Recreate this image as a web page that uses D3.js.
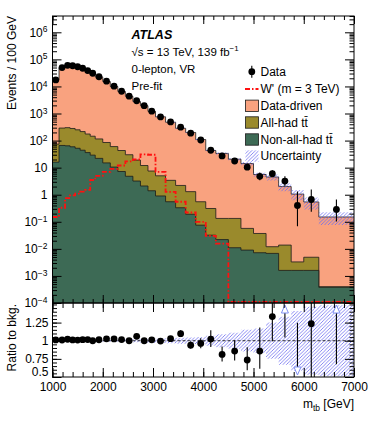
<!DOCTYPE html>
<html>
<head>
<meta charset="utf-8">
<script src="https://cdn.jsdelivr.net/npm/d3@7"></script>
<style>
  body { margin: 0; background: #fff; }
  text { font-family: "Liberation Sans", Arial, sans-serif; }
</style>
</head>
<body>
<svg id="chart"></svg>
<script>
// bin edges in GeV
const binEdges = [1000, 1130, 1250, 1350, 1450, 1550, 1650, 1750, 1850, 2000, 2150, 2300, 2450, 2600, 2750, 2900,
  3050, 3250, 3450, 3650, 3850, 4050, 4250, 4500, 4750, 5000, 5250, 5500, 5750, 6000, 6300, 7000];
// all values are events / 100 GeV
const dataValues = [17400, 49800, 60500, 58000, 53300, 47000, 38600, 30700, 22800, 15600, 10200, 6650, 4350, 2960, 1940, 1215,
  750, 490, 312, 187, 105, 44, 27.2, 17.6, 10.4, 4.8, 6.0, 3.2, 0.4, 0.667, 0.286];
const dataDriven = [17126, 49010, 59000, 57120, 52550, 46085, 37825, 30555, 22385, 15115, 9890, 6507, 4320, 2771, 1928, 1192,
  749, 473, 282, 198, 108.5, 42.7, 33.4, 20.4, 14.1, 5.56, 4.49, 1.99, 1.05, 0.535, 0.15];
const allHad = [58, 224, 236, 221, 198, 171, 139, 116, 93, 70, 49.5, 35.8, 25.2, 15.8, 9.9, 6.1,
  4.1, 2.85, 1.87, 1.11, 0.475, 0.278, 0.111, 0.122, 0.048, 0.0298, 0.0052, 0.0122, 0.0017, 0.0033, 0.00002];
const nonAllHad = [16, 66, 64, 59, 52, 44, 36, 29, 22, 15, 10.5, 7.2, 4.8, 3.2, 2.1, 1.4,
  0.9, 0.55, 0.33, 0.19, 0.075, 0.032, 0.022, 0.011, 0.009, 0.0072, 0.0068, 0.0016, 0.0016, 0.0016, 0.00038];
const signalWp = [0.15, 0.33, 0.75, 0.95, 1.1, 1.3, 1.5, 3.5, 5.0, 7, 9, 12, 17, 20, 31, 30,
  7, 1.28, 0.55, 0.22, 0.1, 0.03, 0.0155, 0, 0, 0, 0, 0, 0, 0, 0];
// relative uncertainty on the total background
const bkgUnc = [0.008, 0.008, 0.008, 0.008, 0.008, 0.009, 0.01, 0.01, 0.012, 0.013, 0.015, 0.017, 0.02, 0.022, 0.025, 0.028,
  0.032, 0.036, 0.04, 0.045, 0.05, 0.07, 0.09, 0.11, 0.15, 0.17, 0.25, 0.33, 0.41, 0.47, 0.49];

const xTicks = [1000, 2000, 3000, 4000, 5000, 6000, 7000];
const ratioTicks = [0.5, 0.75, 1, 1.25];
const legendItems = ["Data", "W' (m = 3 TeV)", "Data-driven", "All-had tt\u0304", "Non-all-had tt\u0304", "Uncertainty"];

const colors = { dd: "#f9a27f", allHad: "#9a8a2c", nonAll: "#3d6a55", hatch: "#6c6cf0", sig: "#ff1010", tri: "#7f8ff2" };

const W = 374, H = 421;
const X0 = 52.5, X1 = 354;
const mainTop = 16, mainBottom = 303, ratioBottom = 377;

const x = d3.scaleLinear().domain([1000, 7000]).range([X0, X1]);
const y = d3.scaleLog().domain([1e-4, 4e6]).range([mainBottom, mainTop]);
const yr = d3.scaleLinear().domain([0.5, 1.52]).range([ratioBottom, mainBottom]);

// poisson 68% interval (Gehrels approximation)
function poisson(n) {
  const lo = n === 0 ? 0 : n * Math.pow(1 - 1 / (9 * n) - 1 / (3 * Math.sqrt(n)), 3);
  const hi = (n + 1) * Math.pow(1 - 1 / (9 * (n + 1)) + 1 / (3 * Math.sqrt(n + 1)), 3);
  return [lo, hi];
}

const bins = binEdges.slice(0, -1).map((lo, i) => {
  const hi = binEdges[i + 1];
  const scale = (hi - lo) / 100;
  const n = Math.round(dataValues[i] * scale);
  const [pl, ph] = poisson(n);
  const tt = nonAllHad[i] + allHad[i];
  const total = tt + dataDriven[i];
  return {
    lo, hi, c: (lo + hi) / 2,
    data: dataValues[i], dLo: pl / scale, dHi: ph / scale,
    nonAll: nonAllHad[i], tt, total, unc: bkgUnc[i], sig: signalWp[i]
  };
});

const svg = d3.select("#chart").attr("width", W).attr("height", H);
const defs = svg.append("defs");
defs.append("clipPath").attr("id", "clipMain").append("rect")
  .attr("x", X0).attr("y", mainTop).attr("width", X1 - X0).attr("height", mainBottom - mainTop);
defs.append("clipPath").attr("id", "clipRatio").append("rect")
  .attr("x", X0).attr("y", mainBottom).attr("width", X1 - X0).attr("height", ratioBottom - mainBottom);
const pat = defs.append("pattern").attr("id", "hatch").attr("patternUnits", "userSpaceOnUse")
  .attr("width", 3.5).attr("height", 3.5);
pat.append("path").attr("d", "M-1,1 L1,-1 M0,3.5 L3.5,0 M2.5,4.5 L4.5,2.5")
  .attr("stroke", colors.hatch).attr("stroke-width", 0.8);

// step helpers
const steps = f => bins.flatMap(b => [[b.lo, f(b)], [b.hi, f(b)]]);
const ly = v => y(Math.max(v, 1e-6));

const main = svg.append("g").attr("clip-path", "url(#clipMain)");
const stackArea = d3.area().x(d => x(d[0])).y0(mainBottom).y1(d => ly(d[1]));
const stepLine = d3.line().x(d => x(d[0])).y(d => ly(d[1]));

[["total", colors.dd], ["tt", colors.allHad], ["nonAll", colors.nonAll]].forEach(([k, col]) => {
  const pts = steps(b => b[k]);
  main.append("path").attr("d", stackArea(pts)).attr("fill", col);
  main.append("path").attr("d", stepLine(pts)).attr("fill", "none").attr("stroke", "#1a1a1a").attr("stroke-width", 0.8);
});

// uncertainty band
main.append("path")
  .attr("d", d3.area().x(d => x(d[0])).y0(d => ly(d[1][0])).y1(d => ly(d[1][1]))(steps(b => [b.total * (1 - b.unc), b.total * (1 + b.unc)])))
  .attr("fill", "url(#hatch)");

// W' signal
main.append("path")
  .attr("d", d3.line().x(d => x(d[0])).y(d => y(Math.max(d[1], 1.1e-4)))(steps(b => b.sig)))
  .attr("fill", "none").attr("stroke", colors.sig).attr("stroke-width", 1.8)
  .attr("stroke-dasharray", "5,2,1.5,2");

// data
main.selectAll(".eb").data(bins).join("line")
  .attr("x1", d => x(d.c)).attr("x2", d => x(d.c))
  .attr("y1", d => ly(d.dLo)).attr("y2", d => y(d.dHi))
  .attr("stroke", "#000").attr("stroke-width", 1.1);
main.selectAll(".dot").data(bins).join("circle")
  .attr("cx", d => x(d.c)).attr("cy", d => y(d.data)).attr("r", 3.4).attr("fill", "#000");

// ratio panel
const rp = svg.append("g").attr("clip-path", "url(#clipRatio)");
rp.append("path")
  .attr("d", d3.area().x(d => x(d[0])).y0(d => yr(d[1][0])).y1(d => yr(d[1][1]))(steps(b => [1 - b.unc, 1 + b.unc])))
  .attr("fill", "url(#hatch)");
rp.append("line").attr("x1", X0).attr("x2", X1).attr("y1", yr(1)).attr("y2", yr(1))
  .attr("stroke", "#000").attr("stroke-width", 0.8).attr("stroke-dasharray", "3,2");

const rTop = yr.domain()[1], rBot = yr.domain()[0];
bins.forEach(b => {
  const r = b.data / b.total, rl = b.dLo / b.total, rh = b.dHi / b.total;
  const cx = x(b.c);
  if (r > rTop) {
    rp.append("line").attr("x1", cx).attr("x2", cx).attr("y1", yr(rl)).attr("y2", mainBottom + 9)
      .attr("stroke", "#000").attr("stroke-width", 1.1);
    rp.append("path").attr("d", `M${cx},${mainBottom + 2}l3.5,8h-7z`)
      .attr("fill", "#fff").attr("stroke", colors.tri).attr("stroke-width", 1);
  } else if (r < rBot) {
    rp.append("line").attr("x1", cx).attr("x2", cx).attr("y1", yr(rh)).attr("y2", ratioBottom - 9)
      .attr("stroke", "#000").attr("stroke-width", 1.1);
    rp.append("path").attr("d", `M${cx},${ratioBottom - 2}l3.5,-8h-7z`)
      .attr("fill", "#fff").attr("stroke", colors.tri).attr("stroke-width", 1);
  } else {
    rp.append("line").attr("x1", cx).attr("x2", cx).attr("y1", yr(rl)).attr("y2", yr(rh))
      .attr("stroke", "#000").attr("stroke-width", 1.1);
    rp.append("circle").attr("cx", cx).attr("cy", yr(r)).attr("r", 3.4).attr("fill", "#000");
  }
});

// axes (ROOT style: ticks inside on all four sides)
const font = g => g.attr("font-size", 12).attr("font-family", "'Liberation Sans', Arial, sans-serif")
  .call(g => g.select(".domain").remove());
const xMinor = d3.range(1000, 7001, 200);

function xAxes(yPos, top, majLen, minLen, labels) {
  const ax = top ? d3.axisTop : d3.axisBottom;
  svg.append("g").attr("transform", `translate(0,${yPos})`)
    .call(ax(x).tickValues(xMinor).tickSize(-minLen).tickFormat("")).call(font);
  const g = svg.append("g").attr("transform", `translate(0,${yPos})`)
    .call(ax(x).tickValues(xTicks).tickSize(-majLen).tickPadding(5).tickFormat(labels ? d3.format("d") : ""))
    .call(font);
  g.selectAll("text").attr("fill", "#000");
}
xAxes(mainTop, true, 8, 4, false);
xAxes(mainBottom, false, 8, 4, false);
xAxes(mainBottom, true, 9, 5, false);
xAxes(ratioBottom, false, 9, 5, true);

const decades = d3.range(-4, 7).map(e => Math.pow(10, e));
const logMinor = d3.range(-4, 7).flatMap(e => d3.range(2, 10).map(m => m * Math.pow(10, e))).filter(v => v <= 4e6);
[[d3.axisLeft, X0], [d3.axisRight, X1]].forEach(([ax, pos], k) => {
  svg.append("g").attr("transform", `translate(${pos},0)`)
    .call(ax(y).tickValues(logMinor).tickSize(-4.5).tickFormat("")).call(font);
  const g = svg.append("g").attr("transform", `translate(${pos},0)`)
    .call(ax(y).tickValues(decades).tickSize(-9).tickPadding(5).tickFormat(k === 0 ? d => d : "")).call(font);
  if (k === 0) {
    g.selectAll(".tick text").attr("fill", "#000").each(function (d) {
      const e = Math.round(Math.log10(d));
      const t = d3.select(this).text(e === 0 ? "1" : "10");
      if (e !== 0 && e !== 1) {
        t.append("tspan").attr("dy", "-0.5em").attr("font-size", 8.5).text(e < 0 ? "\u2212" + (-e) : e);
      }
    });
  }
  svg.append("g").attr("transform", `translate(${pos},0)`)
    .call(ax(yr).tickValues(d3.range(0.5, 1.52, 0.05)).tickSize(-4.5).tickFormat("")).call(font);
  const gr = svg.append("g").attr("transform", `translate(${pos},0)`)
    .call(ax(yr).tickValues(ratioTicks).tickSize(-9).tickPadding(4).tickFormat(k === 0 ? d3.format("") : "")).call(font);
  // lowest label sits a touch higher so it clears the x labels
  gr.selectAll(".tick text").attr("fill", "#000").attr("dy", d => d === 0.5 ? "-0.1em" : "0.32em");
});

// frames
[[mainTop, mainBottom], [mainBottom, ratioBottom]].forEach(([t, b]) => {
  svg.append("rect").attr("x", X0).attr("y", t).attr("width", X1 - X0).attr("height", b - t)
    .attr("fill", "none").attr("stroke", "#000").attr("stroke-width", 1);
});

// axis titles
svg.append("text").attr("transform", `translate(16,${mainTop}) rotate(-90)`)
  .attr("text-anchor", "end").attr("font-size", 12).text("Events / 100 GeV");
svg.append("text").attr("transform", `translate(16,${mainBottom + 1}) rotate(-90)`)
  .attr("text-anchor", "end").attr("font-size", 12).text("Ratio to bkg.");
const xt = svg.append("text").attr("x", X1).attr("y", 408).attr("text-anchor", "end").attr("font-size", 12);
xt.append("tspan").text("m");
xt.append("tspan").attr("dy", 3).attr("font-size", 8.5).text("tb");
xt.append("tspan").attr("dy", -3).text(" [GeV]");

// labels
const lab = svg.append("g").attr("font-size", 11.5);
lab.append("text").attr("x", 131.5).attr("y", 38.5).attr("font-weight", "bold").attr("font-style", "italic")
  .attr("font-size", 12.5).text("ATLAS");
const s = lab.append("text").attr("x", 131.5).attr("y", 55.5);
s.append("tspan").text("\u221As = 13 TeV, 139 fb");
s.append("tspan").attr("dy", -4.5).attr("font-size", 8).text("\u22121");
lab.append("text").attr("x", 131.5).attr("y", 72.7).text("0-lepton, VR");
lab.append("text").attr("x", 131.5).attr("y", 89.7).text("Pre-fit");

// legend
const legY = [71.7, 89, 105.8, 122.5, 139.5, 156];
const leg = svg.append("g").attr("font-size", 12);
legendItems.forEach((t, i) => {
  leg.append("text").attr("x", 260.5).attr("y", legY[i] + 4.3).text(t);
});
leg.append("line").attr("x1", 251.8).attr("x2", 251.8).attr("y1", legY[0] - 6).attr("y2", legY[0] + 6)
  .attr("stroke", "#000").attr("stroke-width", 1.1);
leg.append("circle").attr("cx", 251.8).attr("cy", legY[0]).attr("r", 3.4).attr("fill", "#000");
leg.append("line").attr("x1", 245).attr("x2", 258.5).attr("y1", legY[1]).attr("y2", legY[1])
  .attr("stroke", colors.sig).attr("stroke-width", 1.8).attr("stroke-dasharray", "5,2,1.5,2");
[colors.dd, colors.allHad, colors.nonAll].forEach((c, j) => {
  leg.append("rect").attr("x", 245.5).attr("y", legY[j + 2] - 5.7).attr("width", 13).attr("height", 11.4)
    .attr("fill", c).attr("stroke", "#1a1a1a").attr("stroke-width", 0.8);
});
leg.append("rect").attr("x", 245.5).attr("y", legY[5] - 5.7).attr("width", 13).attr("height", 11.4)
  .attr("fill", "url(#hatch)");
</script>
</body>
</html>
